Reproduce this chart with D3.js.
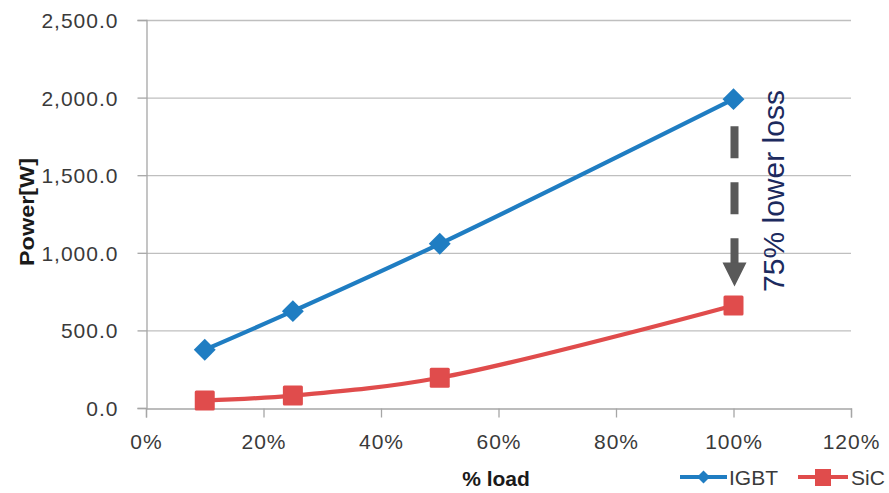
<!DOCTYPE html>
<html>
<head>
<meta charset="utf-8">
<script src="https://cdn.jsdelivr.net/npm/d3@7"></script>
<style>
  html, body { margin: 0; padding: 0; background: #fff; }
  svg { display: block; }
</style>
</head>
<body>
<svg id="chart" width="889" height="493"></svg>
<script>
const loads = [0.10, 0.25, 0.50, 1.00];
const igbt = [375, 624, 1058, 1990];
const sic = [48, 80, 195, 661];
const xTicks = [0, 0.2, 0.4, 0.6, 0.8, 1.0, 1.2];
const yTicks = [0, 500, 1000, 1500, 2000, 2500];
const seriesNames = ["IGBT", "SiC"];
const annotation = "75% lower loss";

(function () {
const svg = d3.select("#chart");
const pLeft = 146, pRight = 851, pTop = 20, pBottom = 408;
const x = d3.scaleLinear().domain([0, 1.2]).range([pLeft, pRight]);
const y = d3.scaleLinear().domain([0, 2500]).range([pBottom, pTop]);

const blue = "#1f7dc2", red = "#e04c4c";
const tickFont = "'Liberation Sans', Arial, sans-serif";

// gridlines
svg.append("g").selectAll("line").data(yTicks.slice(1)).join("line")
  .attr("x1", pLeft).attr("x2", pRight)
  .attr("y1", d => y(d) + 0.5).attr("y2", d => y(d) + 0.5)
  .attr("stroke", "#bfbfbf").attr("stroke-width", 1.3);

// y axis
const yAxis = d3.axisLeft(y).tickValues(yTicks).tickSize(9).tickPadding(19)
  .tickFormat(d => d3.format(",.1f")(d));
const gy = svg.append("g").attr("transform", `translate(${pLeft + 0.5},0)`).call(yAxis);
gy.select(".domain").attr("stroke", "#a6a6a6").attr("stroke-width", 1.3);
gy.selectAll(".tick line").attr("stroke", "#a6a6a6").attr("stroke-width", 1.3);
gy.selectAll(".tick text").attr("font-family", tickFont).attr("font-size", 21)
  .attr("letter-spacing", 1).attr("fill", "#3a3a3a").attr("dy", "0.36em");

// x axis
const xAxis = d3.axisBottom(x).tickValues(xTicks).tickSize(9).tickPadding(17)
  .tickFormat(d3.format(".0%"));
const gx = svg.append("g").attr("transform", `translate(0,${pBottom + 0.5})`).call(xAxis);
gx.select(".domain").attr("stroke", "#a6a6a6").attr("stroke-width", 1.3);
gx.selectAll(".tick line").attr("stroke", "#a6a6a6").attr("stroke-width", 1.3);
gx.selectAll(".tick text").attr("font-family", tickFont).attr("font-size", 21)
  .attr("letter-spacing", 1).attr("fill", "#3a3a3a");

// axis titles
svg.append("text").attr("transform", "translate(34,212) rotate(-90)")
  .attr("text-anchor", "middle").attr("font-family", tickFont)
  .attr("font-weight", "bold").attr("font-size", 21).attr("fill", "#1a1a1a")
  .attr("textLength", 108).attr("lengthAdjust", "spacingAndGlyphs")
  .text("Power[W]");
svg.append("text").attr("x", 496).attr("y", 486)
  .attr("text-anchor", "middle").attr("font-family", tickFont)
  .attr("font-weight", "bold").attr("font-size", 21).attr("fill", "#1a1a1a")
  .text("% load");

// lines
const line = d3.line().x(d => x(d[0])).y(d => y(d[1])).curve(d3.curveCatmullRom.alpha(0.5));
const igbtPts = loads.map((l, i) => [l, igbt[i]]);
const sicPts = loads.map((l, i) => [l, sic[i]]);

svg.append("path").datum(igbtPts).attr("d", line).attr("fill", "none")
  .attr("stroke", blue).attr("stroke-width", 4.2);
svg.append("path").datum(sicPts).attr("d", line).attr("fill", "none")
  .attr("stroke", red).attr("stroke-width", 4.2);

svg.append("g").selectAll("path").data(igbtPts).join("path")
  .attr("d", d3.symbol().type(d3.symbolSquare).size(240))
  .attr("transform", d => `translate(${x(d[0])},${y(d[1])}) rotate(45)`)
  .attr("fill", blue);
svg.append("g").selectAll("rect").data(sicPts).join("rect")
  .attr("x", d => x(d[0]) - 10).attr("y", d => y(d[1]) - 10)
  .attr("width", 20).attr("height", 20).attr("rx", 1.5)
  .attr("fill", red);

// arrow annotation
const ax = x(1.0) + 1;
const aTop = y(igbt[3]) + 27;
const aEnd = y(sic[3]) - 42;
svg.append("line").attr("x1", ax).attr("x2", ax).attr("y1", aTop).attr("y2", aEnd)
  .attr("stroke", "#595959").attr("stroke-width", 8).attr("stroke-dasharray", "32,24");
svg.append("path")
  .attr("d", `M${ax - 12},${aEnd - 1} L${ax + 12},${aEnd - 1} L${ax},${aEnd + 23} Z`)
  .attr("fill", "#595959");
svg.append("text").attr("transform", `translate(784,${(85 + 297) / 2}) rotate(-90)`)
  .attr("text-anchor", "middle").attr("font-family", tickFont)
  .attr("font-size", 30).attr("fill", "#1c2a5e")
  .text(annotation);

// legend
const leg = svg.append("g");
const legItems = [
  { name: seriesNames[0], color: blue, x1: 680, x2: 727, tx: 729, shape: "diamond" },
  { name: seriesNames[1], color: red, x1: 798, x2: 848, tx: 851, shape: "square" }
];
const ly = 477;
legItems.forEach(it => {
  leg.append("line").attr("x1", it.x1).attr("x2", it.x2).attr("y1", ly).attr("y2", ly)
    .attr("stroke", it.color).attr("stroke-width", 4.2);
  const cx = (it.x1 + it.x2) / 2;
  if (it.shape === "diamond") {
    leg.append("path").attr("d", d3.symbol().type(d3.symbolSquare).size(85))
      .attr("transform", `translate(${cx},${ly}) rotate(45)`).attr("fill", it.color);
  } else {
    leg.append("rect").attr("x", cx - 8).attr("y", ly - 8).attr("width", 16).attr("height", 17)
      .attr("fill", it.color);
  }
  leg.append("text").attr("x", it.tx).attr("y", ly).attr("dy", "0.36em")
    .attr("font-family", tickFont).attr("font-size", 21).attr("fill", "#3a3a3a")
    .text(it.name);
});
})();
</script>
</body>
</html>
